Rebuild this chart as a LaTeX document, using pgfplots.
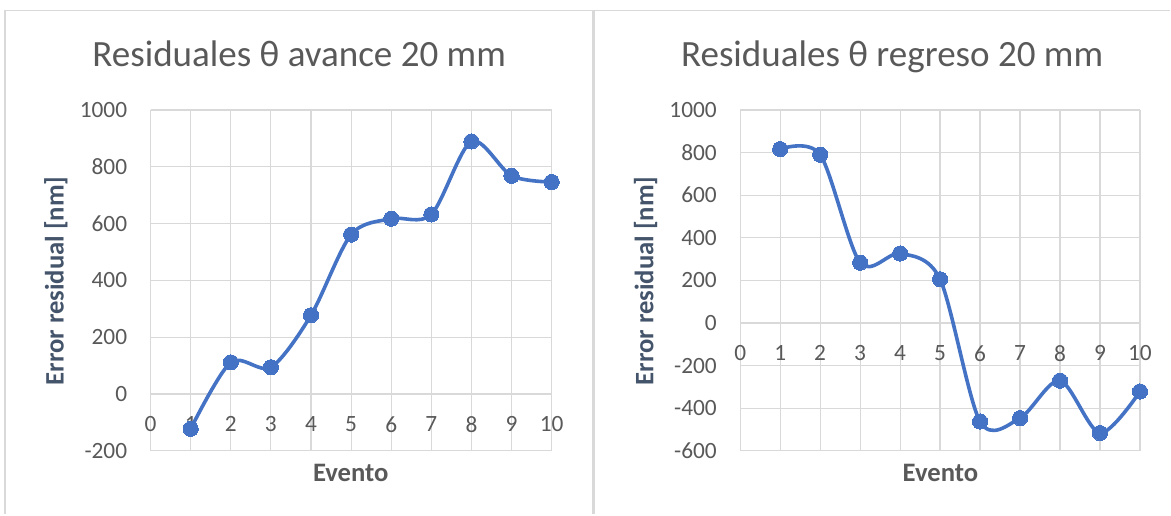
\documentclass[border=0pt]{standalone}
\usepackage{fontspec}
\setmainfont{Carlito}
\usepackage{pgfplots}
\pgfplotsset{compat=1.18}
\definecolor{gridc}{HTML}{D9D9D9}
\definecolor{txt}{HTML}{595959}
\definecolor{ylab}{HTML}{44546A}
\definecolor{blu}{HTML}{4472C4}
\pgfplotsset{
  res/.style={
    scale only axis, width=301pt, height=255.75pt, anchor=south west,
    xmin=0, xmax=10, xtick={0,...,10},
    axis x line=middle, axis y line=left,
    axis line style={-, draw=gridc, line width=0.9pt},
    grid=major, major grid style={draw=gridc, line width=0.9pt},
    major tick length=0pt, tick style={draw=none},
    hide obscured x ticks=false, hide obscured y ticks=false,
    /pgf/number format/assume math mode=true,
    /pgf/number format/1000 sep={},
    ticklabel style={font=\fontsize{17.5}{20}\selectfont, text=txt},
    xticklabel style={anchor=center, inner sep=0pt, yshift=-22.75pt},
    yticklabel style={anchor=east, inner sep=0pt, xshift=-17.4pt},
    clip=false,
  },
  resline/.style={blu, line width=2.7pt, smooth, mark=*, mark size=5.7pt,
    mark options={solid, fill=blu, draw=blu, line width=0pt}},
}
\begin{document}
\begin{tikzpicture}
\path[fill=white] (0,0) rectangle (878.25pt,385.5pt);
\draw[gridc, line width=1.1pt] (3.75pt,0) -- (3.75pt,377.5pt) -- (878.25pt,377.5pt);
\draw[gridc, line width=2.25pt] (445.7pt,0) -- (445.7pt,377.5pt);
\node[anchor=base, text=txt, font=\fontsize{27.8}{32}\selectfont] at (224.5pt,335.25pt) {Residuales θ avance 20 mm};
\node[anchor=base, text=txt, font=\fontsize{27.8}{32}\selectfont] at (669.5pt,335.25pt) {Residuales θ regreso 20 mm};
\node[rotate=90, anchor=center, text=ylab, font=\bfseries\fontsize{20}{24}\selectfont] at (42pt,174.75pt) {Error residual [nm]};
\node[rotate=90, anchor=center, text=ylab, font=\bfseries\fontsize{20}{24}\selectfont] at (484.5pt,174.75pt) {Error residual [nm]};
\node[anchor=center, text=txt, font=\bfseries\fontsize{20}{24}\selectfont] at (263.25pt,30.75pt) {Evento};
\node[anchor=center, text=txt, font=\bfseries\fontsize{20}{24}\selectfont] at (705.75pt,30.75pt) {Evento};
\begin{axis}[res, at={(113pt,47.25pt)}, ymin=-200, ymax=1000, ytick={-200,0,...,1000}]
\addplot[resline] coordinates {
(1,-123) (2,111) (3,94) (4,277) (5,561) (6,617) (7,632) (8,889) (9,768) (10,746)};
\end{axis}
\begin{axis}[res, at={(555.5pt,47.25pt)}, width=300pt, ymin=-600, ymax=1000, ytick={-600,-400,...,1000}]
\addplot[resline] coordinates {
(1,816) (2,790) (3,283) (4,326) (5,205) (6,-463) (7,-447) (8,-271) (9,-517) (10,-322)};
\end{axis}
\end{tikzpicture}
\end{document}
